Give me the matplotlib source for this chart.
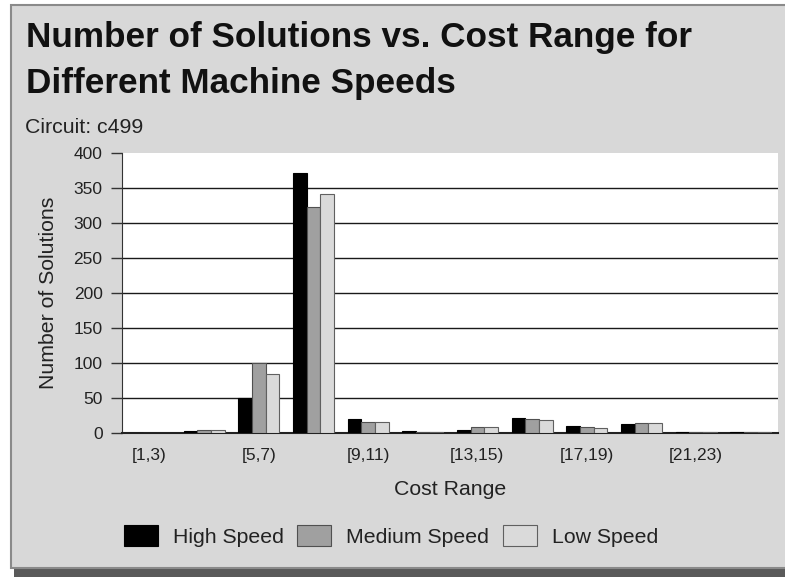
import numpy as np
import matplotlib
matplotlib.use('Agg')
from matplotlib import pyplot as plt
from matplotlib.patches import Rectangle

plt.rcParams['font.family'] = ['Liberation Sans', 'DejaVu Sans']

# cost range bins and number of solutions per machine speed
categories = ['[1,3)', '[3,5)', '[5,7)', '[7,9)', '[9,11)', '[11,13)',
              '[13,15)', '[15,17)', '[17,19)', '[19,21)', '[21,23)', '[23,25)']
high_speed = [0, 3, 50, 372, 20, 3, 5, 21, 10, 13, 1, 1]
medium_speed = [0, 4, 100, 323, 16, 1, 8, 20, 8, 14, 1, 1]
low_speed = [0, 4, 84, 341, 16, 1, 9, 19, 7, 14, 1, 1]
series_names = ['High Speed', 'Medium Speed', 'Low Speed']
y_ticks = [0, 50, 100, 150, 200, 250, 300, 350, 400]

bg = '#d8d8d8'
colors = ['#000000', '#a0a0a0', '#dadada']
edges = ['#000000', '#505050', '#606060']
txt = '#222222'

fig = plt.figure(figsize=(7.85, 5.77), dpi=100)
fig.patch.set_facecolor('white')

# panel with drop shadow
fig.patches.append(Rectangle((14 / 785, 0), 1, (577 - 568) / 577, transform=fig.transFigure,
                             facecolor='#5a5a5a', edgecolor='none', zorder=-2))
fig.patches.append(Rectangle((11 / 785, (577 - 568) / 577), 1, (568 - 5) / 577,
                             transform=fig.transFigure, facecolor=bg,
                             edgecolor='#8a8a8a', linewidth=1.5, zorder=-1))

ax = fig.add_axes([122 / 785, (577 - 433) / 577, 656 / 785, 280 / 577])
ax.set_facecolor('white')

x = np.arange(len(categories))
w = 0.25
for i, vals in enumerate([high_speed, medium_speed, low_speed]):
    ax.bar(x + (i - 1) * w, vals, width=w, color=colors[i], edgecolor=edges[i],
           linewidth=0.8, label=series_names[i], zorder=3)

for yv in y_ticks[1:-1]:
    ax.axhline(yv, color='#1a1a1a', linewidth=1.0, zorder=1)

ax.set_xlim(-0.5, len(categories) - 0.5)
ax.set_ylim(0, 400)
ax.set_yticks(y_ticks)
ax.set_xticks(x[::2])
ax.set_xticklabels(categories[::2])
ax.tick_params(axis='y', length=8, width=1, color='#333333', labelcolor=txt,
               labelsize=12.5, pad=6)
ax.tick_params(axis='x', length=0, labelcolor=txt, labelsize=12.5, pad=11)

for s in ['top', 'right']:
    ax.spines[s].set_visible(False)
ax.spines['left'].set_color('#333333')
ax.spines['bottom'].set_color('#222222')
ax.spines['bottom'].set_linewidth(1.5)

ax.set_ylabel('Number of Solutions', fontsize=15.3, color=txt, labelpad=11)
ax.set_xlabel('Cost Range', fontsize=15.3, color=txt, labelpad=12)

fig.text(26 / 785, 1 - 47 / 577, 'Number of Solutions vs. Cost Range for',
         fontsize=25.3, fontweight='bold', va='baseline', ha='left', color='#111111')
fig.text(26 / 785, 1 - 93 / 577, 'Different Machine Speeds',
         fontsize=25.3, fontweight='bold', va='baseline', ha='left', color='#111111')
fig.text(25 / 785, 1 - 133 / 577, 'Circuit: c499', fontsize=15.3, va='baseline', ha='left',
         color=txt)

fig.legend(loc='center', bbox_to_anchor=(391 / 785, 1 - 536 / 577), ncol=3, frameon=False,
           fontsize=15.3, handlelength=1.6, handleheight=1.1, handletextpad=0.7,
           columnspacing=0.65, labelcolor=txt)

fig.savefig('out.png', dpi=100, facecolor=fig.get_facecolor())
